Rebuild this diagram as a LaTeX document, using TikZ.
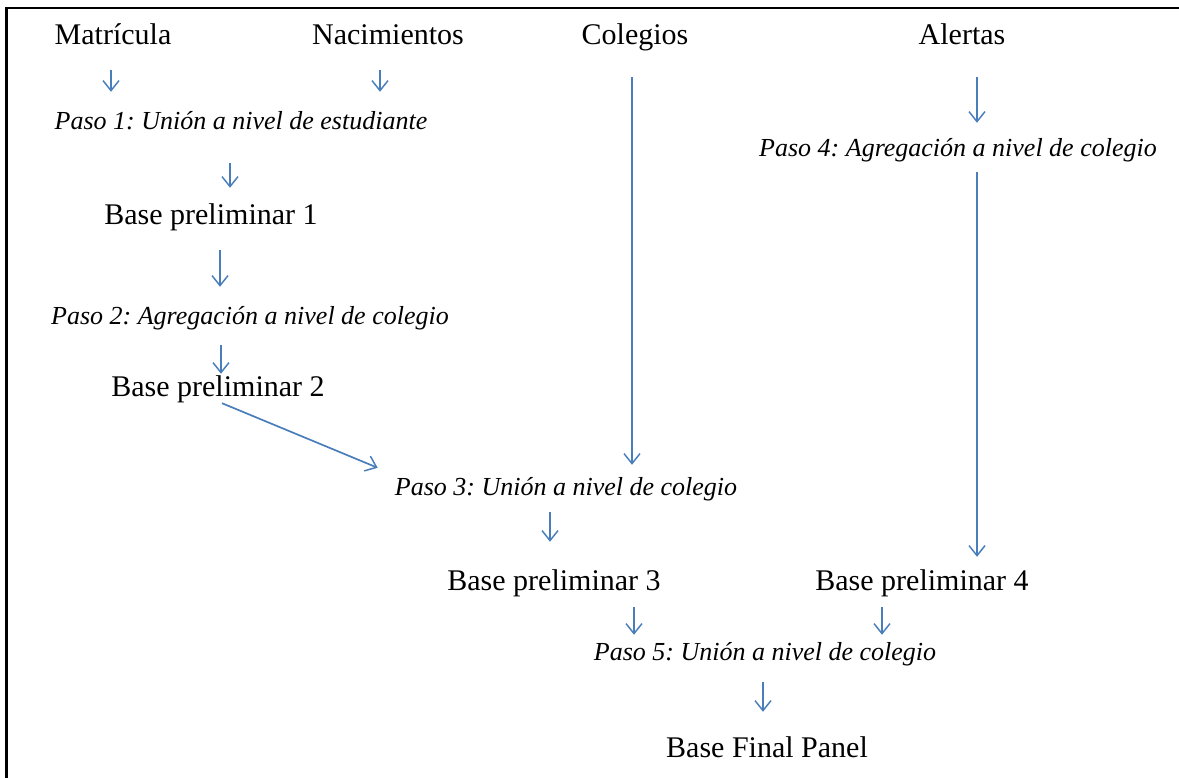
\documentclass[tikz,border=0pt]{standalone}
\usepackage{fontspec}
\setmainfont{Liberation Serif}
\usetikzlibrary{arrows.meta,calc}
\definecolor{arrblue}{RGB}{74,126,187}
\frenchspacing
\begin{document}
\begin{tikzpicture}[x=1pt,y=-1pt,
  big/.style={anchor=base,inner sep=0pt,font=\fontsize{30}{36}\selectfont,text height=21pt,text depth=7pt},
  stepl/.style={anchor=base,inner sep=0pt,font=\fontsize{26}{31}\selectfont\itshape,text height=18pt,text depth=6pt},
  arr/.style={draw=arrblue,line width=1.7pt,-{Straight Barb[length=10pt,width=16pt,line width=1.5pt]}},
  frame/.style={draw=black,line width=2.5pt}]
\useasboundingbox (0,0) rectangle (1179,778);
\draw[frame] (1179,8) -- (6.5,8) -- (6.5,778);

\node[big] (matr) at (113,45) {Matrícula};
\node[big] (nac) at (388,45) {Nacimientos};
\node[big] (col) at (635,45) {Colegios};
\node[big] (ale) at (962,45) {Alertas};
\node[stepl] (paso1) at (241,130) {Paso 1: Unión a nivel de estudiante};
\node[big] (bp1) at (211,225) {Base preliminar 1};
\node[stepl] (paso2) at (250,325) {Paso 2: Agregación a nivel de colegio};
\node[big] (bp2) at (218,396) {Base preliminar 2};
\node[stepl] (paso3) at (566,495) {Paso 3: Unión a nivel de colegio};
\node[stepl] (paso4) at (958,157) {Paso 4: Agregación a nivel de colegio};
\node[big] (bp3) at (554,590) {Base preliminar 3};
\node[big] (bp4) at (922,590) {Base preliminar 4};
\node[stepl] (paso5) at (765,660) {Paso 5: Unión a nivel de colegio};
\node[big] (bpf) at (767,757) {Base Final Panel};

\draw[arr] ($(matr.south)+(-2,18)$) -- ($(matr.south |- paso1.north)+(-2,-20)$);
\draw[arr] ($(nac.south)+(-8,18)$) -- ($(nac.south |- paso1.north)+(-8,-20)$);
\draw[arr] ($(col.south)+(-3,25)$) -- ($(col.south |- paso3.north)+(-3,-12)$);
\draw[arr] ($(ale.south)+(15,25)$) -- ($(ale.south |- paso4.north)+(15,-16)$);
\draw[arr] ($(paso1.south)+(-11,27)$) -- ($(paso1.south |- bp1.north)+(-11,-16)$);
\draw[arr] ($(bp1.south)+(9,18)$) -- ($(bp1.south |- paso2.north)+(9,-20)$);
\draw[arr] ($(paso2.south)+(-29,14)$) -- ($(paso2.south |- bp2.north)+(-29,-1)$);
\draw[arr] ($(bp2.south)+(4,0)$) -- ($(paso3.north west)+(-17,-9)$);
\draw[arr] ($(paso3.south)+(-16,11)$) -- ($(paso3.south |- bp3.north)+(-16,-27)$);
\draw[arr] ($(paso4.south)+(19,9)$) -- ($(paso4.south |- bp4.north)+(19,-12)$);
\draw[arr] ($(bp3.south)+(80,10)$) -- ($(bp3.south |- paso5.north)+(80,-7)$);
\draw[arr] ($(bp4.south)+(-40,10)$) -- ($(bp4.south |- paso5.north)+(-40,-7)$);
\draw[arr] ($(paso5.south)+(-2,16)$) -- ($(paso5.south |- bpf.north)+(-2,-24)$);
\end{tikzpicture}
\end{document}
